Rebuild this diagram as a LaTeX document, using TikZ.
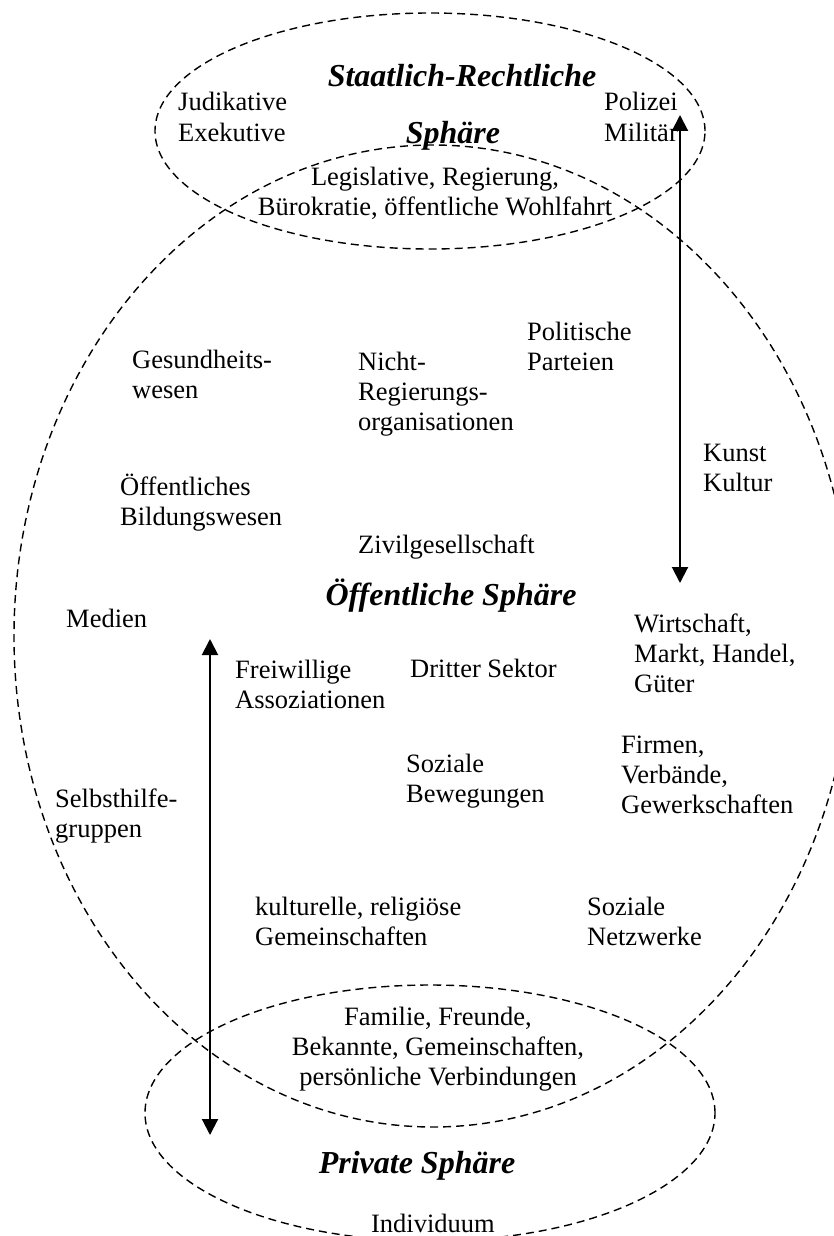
\documentclass[tikz,border=0pt]{standalone}
\usepackage{fontspec}
\setmainfont{Liberation Serif}
\usetikzlibrary{arrows.meta}
\tikzset{
  sphere/.style={draw=black, line width=1.4pt, dash pattern=on 8pt off 5pt},
  lbl/.style={inner sep=0pt, align=left, anchor=base west, font=\fontsize{26.5}{30}\selectfont},
  clbl/.style={inner sep=0pt, align=center, anchor=base, font=\fontsize{26.5}{30}\selectfont},
  ttl/.style={inner sep=0pt, anchor=base, font=\fontsize{32}{36}\selectfont\bfseries\itshape},
  dblarrow/.style={line width=2pt, {Triangle[width=16pt,length=16pt]}-{Triangle[width=16pt,length=16pt]}}
}
\begin{document}
\begin{tikzpicture}[x=1pt,y=-1pt]
\useasboundingbox (0,0) rectangle (834,1236);
% spheres
\draw[sphere] (430,131) ellipse [x radius=275pt, y radius=118pt];
\draw[sphere] (433,636) ellipse [x radius=419pt, y radius=491pt];
\draw[sphere] (430,1113) ellipse [x radius=285pt, y radius=128pt];
% titles
\node[ttl] (t1a) at (462,87) {Staatlich-Rechtliche};
\node[ttl] (t1b) at (453,143) {Sphäre};
\node[ttl] (t2) at (451,605) {Öffentliche Sphäre};
\node[ttl] (t3) at (417,1173) {Private Sphäre};
% state sphere (base anchor = baseline of last line)
\node[lbl] (jud) at (178,141) {Judikative\\Exekutive};
\node[lbl] (pol) at (604,141) {Polizei\\Militär};
\node[clbl] (leg) at (435,215) {Legislative, Regierung,\\Bürokratie, öffentliche Wohlfahrt};
% public sphere
\node[lbl] (part) at (527,370) {Politische\\Parteien};
\node[lbl] (ges) at (132,398) {Gesundheits-\\wesen};
\node[lbl] (ngo) at (358,430) {Nicht-\\Regierungs-\\organisationen};
\node[lbl] (kunst) at (703,491) {Kunst\\Kultur};
\node[lbl] (bild) at (120,525) {Öffentliches\\Bildungswesen};
\node[lbl] (ziv) at (358,553) {Zivilgesellschaft};
\node[lbl] (med) at (66,627) {Medien};
\node[lbl] (wirt) at (634,692) {Wirtschaft,\\Markt, Handel,\\Güter};
\node[lbl] (frei) at (235,708) {Freiwillige\\Assoziationen};
\node[lbl] (dritt) at (410,677) {Dritter Sektor};
\node[lbl] (firm) at (621,813) {Firmen,\\Verbände,\\Gewerkschaften};
\node[lbl] (bew) at (406,802) {Soziale\\Bewegungen};
\node[lbl] (selb) at (55,837) {Selbsthilfe-\\gruppen};
\node[lbl] (kult) at (255,945) {kulturelle, religiöse\\Gemeinschaften};
\node[lbl] (netz) at (587,945) {Soziale\\Netzwerke};
% private sphere
\node[clbl] (fam) at (438,1085) {Familie, Freunde,\\Bekannte, Gemeinschaften,\\persönliche Verbindungen};
\node[clbl] (ind) at (433,1232) {Individuum};
% arrows
\coordinate (rTop) at (680,115);
\coordinate (rBot) at (680,583);
\coordinate (lTop) at (210,639);
\coordinate (lBot) at (210,1135);
\draw[dblarrow] (rTop) -- (rBot);
\draw[dblarrow] (lTop) -- (lBot);
\end{tikzpicture}
\end{document}
